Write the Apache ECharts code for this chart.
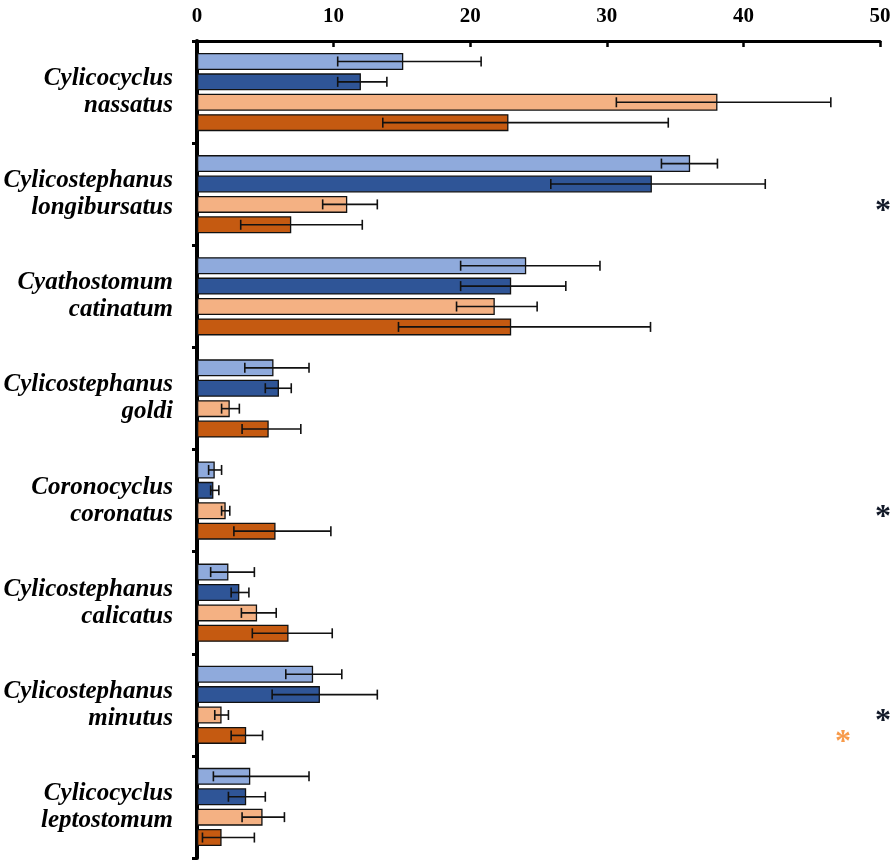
<!DOCTYPE html>
<html>
<head>
<meta charset="utf-8">
<script src="https://cdn.jsdelivr.net/npm/echarts@6/dist/echarts.min.js"></script>
<style>html,body{margin:0;padding:0;background:#fff}#c{width:896px;height:862px}</style>
</head>
<body>
<div id="c"></div>
<script>
const categories = [
  'Cylicocyclus\nnassatus',
  'Cylicostephanus\nlongibursatus',
  'Cyathostomum\ncatinatum',
  'Cylicostephanus\ngoldi',
  'Coronocyclus\ncoronatus',
  'Cylicostephanus\ncalicatus',
  'Cylicostephanus\nminutus',
  'Cylicocyclus\nleptostomum'
];
const xTicks = [0, 10, 20, 30, 40, 50];
const seriesNames = ['Group 1', 'Group 2', 'Group 3', 'Group 4'];
const seriesColors = ['#8faadc', '#2f5597', '#f4b183', '#c55a11'];

const lightBlue = [15.1, 36.1, 24.1, 5.6, 1.3, 2.3, 8.5, 3.9];
const lightBlueLow = [10.3, 34.0, 19.3, 3.5, 0.85, 1.0, 6.5, 1.2];
const lightBlueHigh = [20.8, 38.1, 29.5, 8.2, 1.8, 4.2, 10.6, 8.2];

const darkBlue = [12.0, 33.3, 23.0, 6.0, 1.2, 3.1, 9.0, 3.6];
const darkBlueLow = [10.3, 25.9, 19.3, 5.0, 1.0, 2.5, 5.5, 2.3];
const darkBlueHigh = [13.9, 41.6, 27.0, 6.9, 1.6, 3.8, 13.2, 5.0];

const peach = [38.1, 11.0, 21.8, 2.4, 2.1, 4.4, 1.8, 4.8];
const peachLow = [30.7, 9.2, 19.0, 1.8, 1.8, 3.25, 1.3, 3.3];
const peachHigh = [46.4, 13.2, 24.9, 3.1, 2.4, 5.8, 2.3, 6.4];

const orange = [22.8, 6.9, 23.0, 5.25, 5.75, 6.7, 3.6, 1.8];
const orangeLow = [13.6, 3.2, 14.75, 3.3, 2.7, 4.05, 2.5, 0.4];
const orangeHigh = [34.5, 12.1, 33.2, 7.6, 9.8, 9.9, 4.8, 4.2];

// significance markers: category index, row (series index), colour
const stars = [
  {cat: 1, row: 2, color: '#111827'},
  {cat: 4, row: 2, color: '#111827'},
  {cat: 6, row: 2, color: '#111827'},
  {cat: 6, row: 3, color: '#f79a4a'}
];

const means = [lightBlue, darkBlue, peach, orange];
const lows = [lightBlueLow, darkBlueLow, peachLow, orangeLow];
const highs = [lightBlueHigh, darkBlueHigh, peachHigh, orangeHigh];

const BAR_W = 17, GAP = 0.2;
const total = 4 * BAR_W + 3 * BAR_W * GAP;
function offsetOf(i) { return -total / 2 + i * BAR_W * (1 + GAP) + BAR_W / 2; }

const series = [];
means.forEach((m, i) => {
  series.push({
    name: seriesNames[i], type: 'bar', data: m,
    barWidth: BAR_W, barGap: (GAP * 100) + '%',
    itemStyle: {color: seriesColors[i], borderColor: '#111', borderWidth: 1.3},
    z: 2
  });
});
means.forEach((m, i) => {
  series.push({
    type: 'custom', z: 5, silent: true,
    encode: {y: 0, x: [1, 2]},
    data: m.map((v, k) => [k, lows[i][k], highs[i][k]]),
    renderItem: function (params, api) {
      const cat = api.value(0);
      const p1 = api.coord([api.value(1), cat]);
      const p2 = api.coord([api.value(2), cat]);
      const y = p1[1] + offsetOf(i);
      const st = {stroke: '#111', lineWidth: 1.6};
      return {type: 'group', children: [
        {type: 'line', shape: {x1: p1[0], y1: y, x2: p2[0], y2: y}, style: st},
        {type: 'line', shape: {x1: p1[0], y1: y - 5, x2: p1[0], y2: y + 5}, style: st},
        {type: 'line', shape: {x1: p2[0], y1: y - 5, x2: p2[0], y2: y + 5}, style: st}
      ]};
    }
  });
});
series.push({
  type: 'custom', z: 6, silent: true,
  encode: {y: 0, x: 1},
  data: stars.map(s => [s.cat, 50, s.row]),
  renderItem: function (params, api) {
    const s = stars[params.dataIndex];
    const p = api.coord([50, api.value(0)]);
    const dx = s.row === 3 ? -37 : 3;
    return {type: 'text', x: p[0] + dx, y: p[1] + offsetOf(s.row) + 7,
      style: {text: '*', fill: s.color, font: 'bold 32px "Liberation Serif"', align: 'center', verticalAlign: 'middle'}};
  }
});

const chart = echarts.init(document.getElementById('c'), null, {renderer: 'canvas'});
chart.setOption({
  animation: false,
  backgroundColor: '#fff',
  grid: {left: 197, right: 16, top: 41, bottom: 4, containLabel: false},
  xAxis: {
    type: 'value', position: 'top', min: 0, max: 50, interval: 10,
    axisLine: {show: true, lineStyle: {color: '#000', width: 3}},
    axisTick: {show: true, inside: true, length: 6, lineStyle: {color: '#000', width: 2.5}},
    splitLine: {show: false},
    axisLabel: {margin: 14, color: '#000', fontFamily: 'Liberation Serif', fontWeight: 'bold', fontSize: 21,
      formatter: v => xTicks.includes(v) ? String(v) : ''}
  },
  yAxis: {
    type: 'category', inverse: true, data: categories,
    axisLine: {show: true, lineStyle: {color: '#000', width: 4}},
    axisTick: {show: true, length: 5, lineStyle: {color: '#000', width: 3}},
    axisLabel: {margin: 24, color: '#000', fontFamily: 'Liberation Serif', fontWeight: 'bold', fontStyle: 'italic',
      fontSize: 25, lineHeight: 27, align: 'right'}
  },
  series: series
});
</script>
</body>
</html>
